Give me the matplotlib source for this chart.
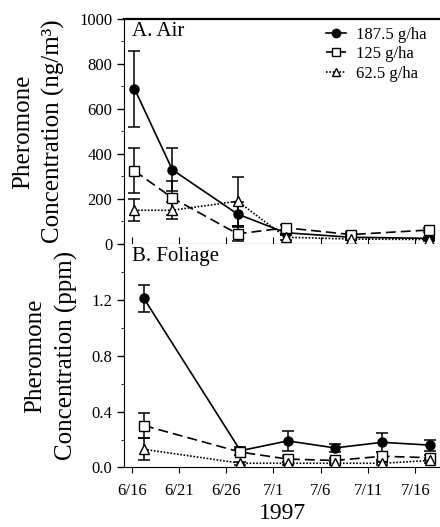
import numpy as np
import matplotlib
matplotlib.use("Agg")
from matplotlib import pyplot as plt
from matplotlib.lines import Line2D
from matplotlib.ticker import MultipleLocator, FormatStrFormatter

plt.rcParams['font.family'] = ['Liberation Serif', 'DejaVu Serif']

# sampling days, counted from June 16 1997
air_days = [0.3, 4.3, 11.2, 16.3, 23.2, 31.4]
foliage_days = [1.3, 11.5, 16.5, 21.5, 26.5, 31.5]

rates = ['187.5 g/ha', '125 g/ha', '62.5 g/ha']

# A. air concentration, ng/m3
air_high = [690, 330, 133, 50, 30, 25]
air_high_err = [168, 95, 55, 12, 10, 8]
air_mid = [325, 205, 45, 72, 42, 62]
air_mid_err = [100, 75, 30, 12, 12, 10]
air_low = [150, 150, 190, 30, 22, 20]
air_low_err = [50, 38, 108, 10, 6, 6]

# B. foliage residue, ppm
fol_high = [1.21, 0.12, 0.19, 0.14, 0.18, 0.16]
fol_high_err = [0.10, 0.03, 0.07, 0.03, 0.07, 0.04]
fol_mid = [0.30, 0.11, 0.06, 0.05, 0.08, 0.07]
fol_mid_err = [0.09, 0.02, 0.02, 0.02, 0.03, 0.02]
fol_low = [0.13, 0.03, 0.03, 0.03, 0.03, 0.05]
fol_low_err = [0.08, 0.01, 0.01, 0.01, 0.01, 0.02]

tick_days = [0, 5, 10, 15, 20, 25, 30]
tick_labels = ['6/16', '6/21', '6/26', '7/1', '7/6', '7/11', '7/16']

styles = [dict(marker='o', mfc='black', ls='-'),
          dict(marker='s', mfc='white', ls=(0, (6, 3))),
          dict(marker='^', mfc='white', ls=(0, (1, 1)))]


def draw_panel(ax, days, series, errs, ylim, major, minor, title, ylabel):
    for vals, err, st in zip(series, errs, styles):
        ax.errorbar(days, vals, yerr=err, color='black', mec='black',
                    ms=6.5, lw=1.2, elinewidth=1.1, capsize=4, capthick=1.1,
                    **st)
    ax.set_xlim(-0.8, 32.7)
    ax.set_ylim(*ylim)
    ax.yaxis.set_major_locator(MultipleLocator(major))
    ax.yaxis.set_minor_locator(MultipleLocator(minor))
    ax.set_xticks(tick_days)
    ax.spines['right'].set_visible(False)
    ax.tick_params(axis='y', which='major', direction='out', length=5,
                   labelsize=12, width=1)
    ax.tick_params(axis='y', which='minor', direction='out', length=2.5)
    ax.text(0.025, 0.985, title, transform=ax.transAxes, fontsize=15,
            va='top', ha='left')
    ax.set_ylabel(ylabel, fontsize=18, linespacing=1.45, labelpad=10)


fig = plt.figure(figsize=(4.4, 5.27), dpi=100)
ax1 = fig.add_axes([0.282, 0.537, 0.72, 0.427])
ax2 = fig.add_axes([0.282, 0.113, 0.72, 0.424])

draw_panel(ax1, air_days, [air_high, air_mid, air_low],
           [air_high_err, air_mid_err, air_low_err], (0, 1000), 200, 100,
           'A. Air', 'Pheromone\nConcentration (ng/m\u00b3)')
ax1.spines['top'].set_linewidth(1.6)
ax1.tick_params(axis='x', direction='in', length=5, labelbottom=False)

# legend keys without the error bars
keys = [Line2D([], [], color='black', mec='black', ms=6, lw=1.2, **st)
        for st in styles]
ax1.legend(keys, rates, loc='upper right', bbox_to_anchor=(0.955, 0.965),
           frameon=False, fontsize=12, handlelength=1.2, handletextpad=0.6,
           labelspacing=0.2, borderaxespad=0, borderpad=0)

draw_panel(ax2, foliage_days, [fol_high, fol_mid, fol_low],
           [fol_high_err, fol_mid_err, fol_low_err], (0, 1.6), 0.4, 0.2,
           'B. Foliage', 'Pheromone\nConcentration (ppm)')
ax2.spines['top'].set_visible(False)
ax2.set_yticks([0.0, 0.4, 0.8, 1.2])
ax2.yaxis.set_major_formatter(FormatStrFormatter('%.1f'))
ax2.set_xticklabels(tick_labels)
ax2.tick_params(axis='x', direction='out', length=4, labelsize=12, pad=7)
ax2.set_xlabel('1997', fontsize=17, labelpad=3)

fig.savefig('out.png', dpi=100)
